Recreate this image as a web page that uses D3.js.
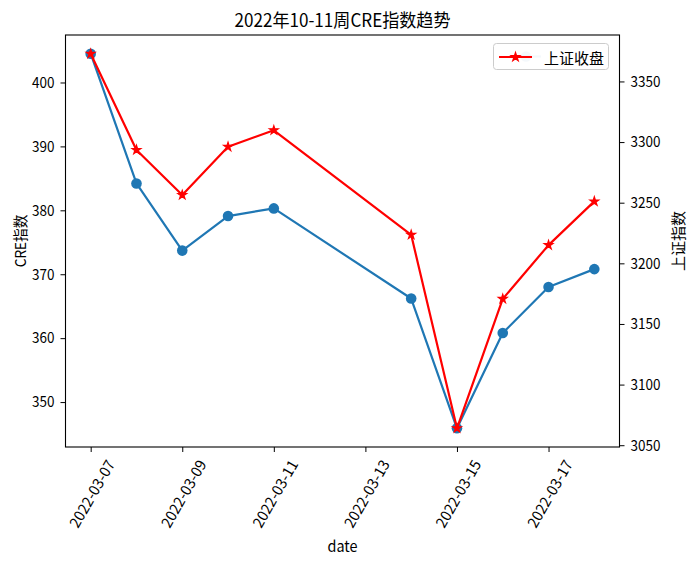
<!DOCTYPE html>
<html>
<head>
<meta charset="utf-8">
<script src="https://d3js.org/d3.v7.min.js"></script>
<style>
  html, body { margin: 0; padding: 0; background: #fff; }
  svg { display: block; }
  text { font-family: "Noto Sans CJK SC", "DejaVu Sans", sans-serif; fill: #000; }
</style>
</head>
<body>
<svg id="chart" width="693" height="562"></svg>
<script>
// ---- data ----
const dates = ["2022-03-07","2022-03-08","2022-03-09","2022-03-10","2022-03-11",
               "2022-03-14","2022-03-15","2022-03-16","2022-03-17","2022-03-18"];
const creValues = [404.5, 384.2, 373.7, 379.1, 380.3, 366.2, 345.9, 360.8, 368.0, 370.8];
const shValues = [3372.86, 3293.53, 3256.39, 3296.09, 3309.75, 3223.53, 3063.97, 3170.71, 3215.04, 3251.07];
const xTickDates = ["2022-03-07","2022-03-09","2022-03-11","2022-03-13","2022-03-15","2022-03-17"];
const leftTicks = [350, 360, 370, 380, 390, 400];
const rightTicks = [3050, 3100, 3150, 3200, 3250, 3300, 3350];
const titleText = "2022年10-11周CRE指数趋势";
const xLabel = "date";
const leftLabel = "CRE指数";
const rightLabel = "上证指数";
const legendLabel = "上证收盘";

// ---- layout ----
const plot = { left: 65.5, right: 619.5, top: 35, bottom: 447 };
const FS = 15, TFS = 18;
const blue = "#1f77b4", red = "#ff0000";

const parse = d3.timeParse("%Y-%m-%d");
const xDates = dates.map(parse);

function padDomain(min, max, frac) {
  const span = max - min;
  return [min - span * frac, max + span * frac];
}

const xExt = d3.extent(xDates);
const xPad = (xExt[1] - xExt[0]) * 0.05;
const x = d3.scaleTime()
  .domain([new Date(+xExt[0] - xPad), new Date(+xExt[1] + xPad)])
  .range([plot.left, plot.right]);

const yL = d3.scaleLinear()
  .domain(padDomain(d3.min(creValues), d3.max(creValues), 0.05))
  .range([plot.bottom, plot.top]);
const yR = d3.scaleLinear()
  .domain(padDomain(d3.min(shValues), d3.max(shValues), 0.05))
  .range([plot.bottom, plot.top]);

const svg = d3.select("#chart");

function textUnits(t) {
  let w = 0;
  for (const ch of t) w += (ch.codePointAt(0) > 0x2e80 ? 1 : 0.5);
  return w;
}
// SimHei-like metrics: CJK glyphs 1em, others 0.5em
function fitText(sel, fs) {
  sel.each(function () {
    this.setAttribute("textLength", textUnits(this.textContent) * fs);
    this.setAttribute("lengthAdjust", "spacingAndGlyphs");
  });
}

// ---- axes ----
const tickLen = 5;
const gx = svg.append("g").attr("transform", `translate(0,${plot.bottom})`)
  .call(d3.axisBottom(x).tickValues(xTickDates.map(parse))
    .tickFormat(d3.timeFormat("%Y-%m-%d")).tickSize(tickLen).tickSizeOuter(0));
gx.select(".domain").remove();
gx.selectAll(".tick line").attr("stroke", "#000").attr("stroke-width", 1);
gx.selectAll(".tick text")
  .attr("font-size", FS)
  .attr("font-family", "Noto Sans CJK SC")
  .attr("text-anchor", "end")
  .attr("dominant-baseline", "central")
  .attr("y", null).attr("dy", null)
  .attr("transform", function () {
    const L = textUnits(this.textContent) * FS;
    return `translate(${0.25 * L},${tickLen + 5 + 0.25 * FS}) rotate(-60)`;
  })
  .call(fitText, FS);

const gl = svg.append("g").attr("transform", `translate(${plot.left},0)`)
  .call(d3.axisLeft(yL).tickValues(leftTicks).tickFormat(d3.format("d")).tickSize(tickLen).tickPadding(6).tickSizeOuter(0));
gl.select(".domain").remove();
gl.selectAll(".tick line").attr("stroke", "#000");
gl.selectAll(".tick text").attr("font-size", FS).attr("font-family", "Noto Sans CJK SC").call(fitText, FS);

const gr = svg.append("g").attr("transform", `translate(${plot.right},0)`)
  .call(d3.axisRight(yR).tickValues(rightTicks).tickFormat(d3.format("d")).tickSize(tickLen).tickPadding(6).tickSizeOuter(0));
gr.select(".domain").remove();
gr.selectAll(".tick line").attr("stroke", "#000");
gr.selectAll(".tick text").attr("font-size", FS).attr("font-family", "Noto Sans CJK SC").call(fitText, FS);

// ---- lines ----
const marks = svg.append("g");
const lineL = d3.line().x((d, i) => x(xDates[i])).y(d => yL(d));
const lineR = d3.line().x((d, i) => x(xDates[i])).y(d => yR(d));

marks.append("path").datum(creValues).attr("d", lineL)
  .attr("fill", "none").attr("stroke", blue).attr("stroke-width", 2.2).attr("stroke-linejoin", "round");
marks.selectAll("circle.cre").data(creValues).join("circle").attr("class", "cre")
  .attr("cx", (d, i) => x(xDates[i])).attr("cy", d => yL(d)).attr("r", 5.3).attr("fill", blue);

const star = d3.symbol().type(d3.symbolStar).size(24);
marks.append("path").datum(shValues).attr("d", lineR)
  .attr("fill", "none").attr("stroke", red).attr("stroke-width", 2.2).attr("stroke-linejoin", "round");
marks.selectAll("path.sh").data(shValues).join("path").attr("class", "sh")
  .attr("d", star)
  .attr("transform", (d, i) => `translate(${x(xDates[i])},${yR(d)})`)
  .attr("fill", red).attr("stroke", red).attr("stroke-width", 1.2);

// ---- spines ----
svg.append("rect")
  .attr("x", plot.left).attr("y", plot.top)
  .attr("width", plot.right - plot.left).attr("height", plot.bottom - plot.top)
  .attr("fill", "none").attr("stroke", "#000").attr("stroke-width", 1.1);

// ---- legend ----
const lg = svg.append("g");
lg.append("line").attr("x1", 512).attr("x2", 541).attr("y1", 56.5).attr("y2", 56.5)
  .attr("stroke", blue).attr("stroke-width", 2.2).attr("opacity", 0.25);
lg.append("circle").attr("cx", 526).attr("cy", 56.5).attr("r", 5.3).attr("fill", blue).attr("opacity", 0.25);
lg.append("rect").attr("x", 493.5).attr("y", 43.5).attr("width", 115).attr("height", 26)
  .attr("rx", 3).attr("fill", "#fff").attr("fill-opacity", 0.8).attr("stroke", "#cccccc").attr("stroke-width", 1);
lg.append("line").attr("x1", 499).attr("x2", 532).attr("y1", 57).attr("y2", 57)
  .attr("stroke", red).attr("stroke-width", 2.2);
lg.append("path").attr("d", star).attr("transform", "translate(515.5,57)")
  .attr("fill", red).attr("stroke", red).attr("stroke-width", 1.2);
lg.append("text").attr("x", 544).attr("y", 57).attr("dominant-baseline", "central")
  .attr("font-size", FS).text(legendLabel).call(fitText, FS);

// ---- labels ----
svg.append("text").attr("x", (plot.left + plot.right) / 2).attr("y", 19)
  .attr("text-anchor", "middle").attr("dominant-baseline", "central")
  .attr("font-size", TFS).text(titleText).call(fitText, TFS);

svg.append("text").attr("x", (plot.left + plot.right) / 2).attr("y", 545)
  .attr("text-anchor", "middle").attr("dominant-baseline", "central")
  .attr("font-size", FS).text(xLabel).call(fitText, FS);

svg.append("text").attr("transform", `translate(19,${(plot.top + plot.bottom) / 2}) rotate(-90)`)
  .attr("text-anchor", "middle").attr("dominant-baseline", "central")
  .attr("font-size", FS).text(leftLabel).call(fitText, FS);

svg.append("text").attr("transform", `translate(677,${(plot.top + plot.bottom) / 2}) rotate(-90)`)
  .attr("text-anchor", "middle").attr("dominant-baseline", "central")
  .attr("font-size", FS).text(rightLabel).call(fitText, FS);
</script>
</body>
</html>
